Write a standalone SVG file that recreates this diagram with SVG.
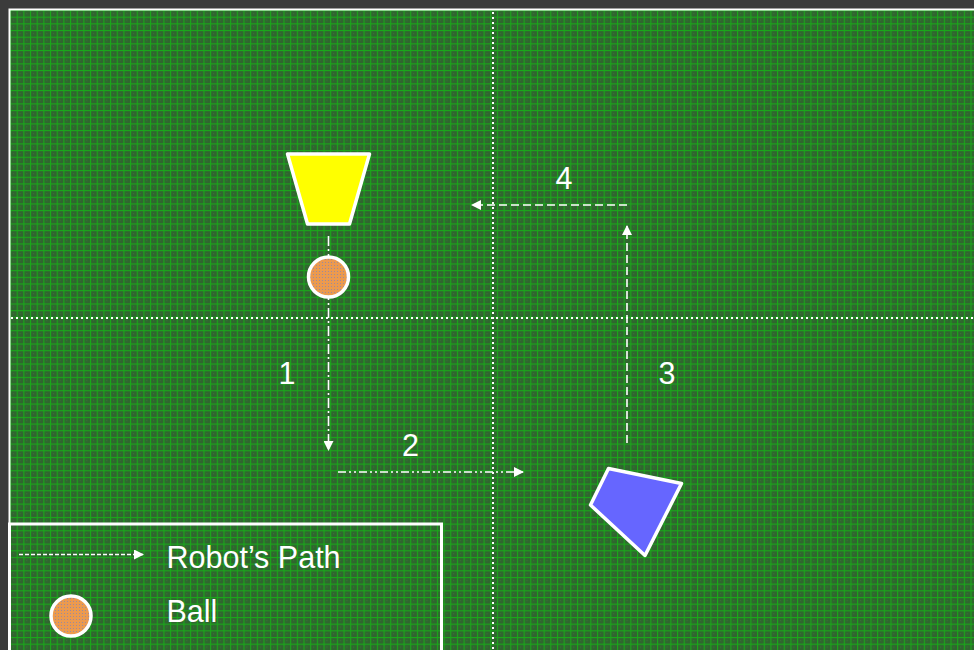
<svg xmlns="http://www.w3.org/2000/svg" width="974" height="650" viewBox="0 0 974 650">
<defs>
<pattern id="grid" x="10" y="10" width="6.67" height="6.67" patternUnits="userSpaceOnUse">
<rect width="6.67" height="6.67" fill="#30652f"/>
<rect x="3" y="3" width="1" height="1" fill="#3c743c"/>
<rect x="0" y="0" width="6.67" height="1.1" fill="#1aa81a"/>
<rect x="0" y="0" width="1.1" height="6.67" fill="#1aa81a"/>
</pattern>
<pattern id="stip" width="3" height="3" patternUnits="userSpaceOnUse">
<rect width="3" height="3" fill="#ec9a4e"/>
<rect x="1" y="1" width="1" height="1" fill="#9a8aa0"/>
</pattern>
<marker id="ah" viewBox="0 0 10 10" refX="9" refY="5" markerWidth="11" markerHeight="10" markerUnits="userSpaceOnUse" orient="auto">
<path d="M0,0 L10,5 L0,10 z" fill="#ffffff"/>
</marker>
</defs>
<style>
.lbl{font-family:"Liberation Sans",Arial,sans-serif;font-size:30.5px;fill:#ffffff}
.path{fill:none;stroke:#ffffff;stroke-width:1.6}
.guide{fill:none;stroke:#ffffff;stroke-width:2;stroke-dasharray:2 3}
.shape{stroke:#ffffff;stroke-width:3.5;stroke-linejoin:round}
</style>
<rect width="974" height="650" fill="#3b3b3b"/>
<rect x="10" y="10" width="964" height="640" fill="url(#grid)"/>
<path d="M9.5,650 V9.5 H974" fill="none" stroke="#ffffff" stroke-width="2"/>
<g id="guides">
<line class="guide" x1="493" y1="12" x2="493" y2="650"/>
<line class="guide" x1="11" y1="318" x2="974" y2="318"/>
</g>
<g id="connectors">
<line class="path" x1="328.5" y1="236" x2="328.5" y2="450" stroke-dasharray="10 3 2 3" marker-end="url(#ah)"/>
<line class="path" x1="338" y1="472" x2="523" y2="472" stroke-dasharray="8 3 2 3 2 3" marker-end="url(#ah)"/>
<line class="path" x1="627" y1="443" x2="627" y2="226" stroke-dasharray="8 4" marker-end="url(#ah)"/>
<line class="path" x1="627" y1="205" x2="472" y2="205" stroke-dasharray="8 4" marker-end="url(#ah)"/>
</g>
<g id="robot-yellow">
<polygon class="shape" points="287.5,154 369.5,154 349.5,224 307.5,224" fill="#ffff00"/>
</g>
<g id="ball">
<circle class="shape" cx="328.5" cy="277" r="20" fill="url(#stip)"/>
</g>
<g id="robot-blue">
<polygon class="shape" points="608.5,468.5 681.5,483.5 645,555.5 590.5,505" fill="#6666ff"/>
</g>
<g id="labels">
<text class="lbl" x="287" y="384" text-anchor="middle">1</text>
<text class="lbl" x="410.5" y="456" text-anchor="middle">2</text>
<text class="lbl" x="667" y="384" text-anchor="middle">3</text>
<text class="lbl" x="564" y="189" text-anchor="middle">4</text>
</g>
<g id="legend">
<rect x="9.5" y="524" width="432" height="140" fill="none" stroke="#ffffff" stroke-width="3"/>
<line class="path" x1="19" y1="554.5" x2="143" y2="554.5" stroke-dasharray="4 2" stroke-width="1.3" marker-end="url(#ah)"/>
<text class="lbl" x="166.5" y="568">Robot’s Path</text>
<circle class="shape" cx="71" cy="616" r="20" fill="url(#stip)"/>
<text class="lbl" x="166.5" y="621.5">Ball</text>
</g>
</svg>
